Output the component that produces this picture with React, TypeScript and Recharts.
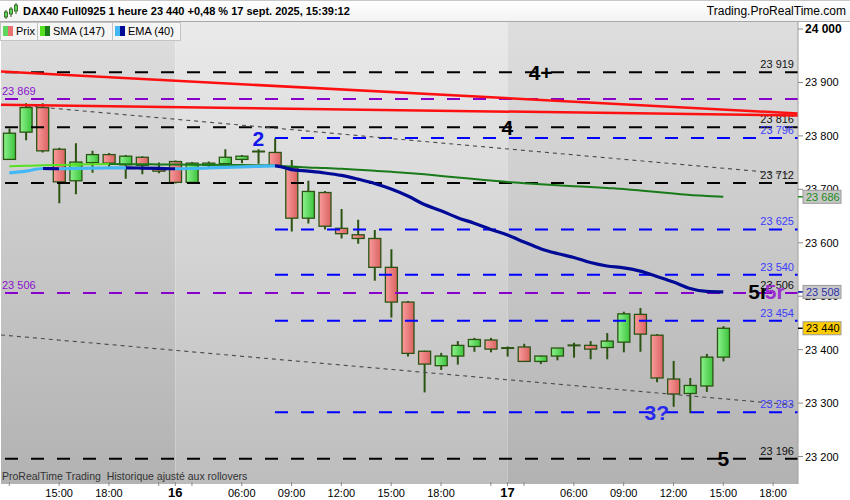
import React from 'react';
import {
  ComposedChart,
  Bar,
  Line,
  XAxis,
  YAxis,
  ReferenceLine,
  ReferenceArea,
  ReferenceDot,
} from 'recharts';

// hourly slots, 15 sept 12h -> 17 sept 19h (night hours are not traded)
const slots = [
  '15/12', '15/13', '15/14', '15/15', '15/16', '15/17', '15/18', '15/19', '15/20', '15/21',
  '16/02', '16/03', '16/04', '16/05', '16/06', '16/07', '16/08', '16/09', '16/10', '16/11',
  '16/12', '16/13', '16/14', '16/15', '16/16', '16/17', '16/18', '16/19', '16/20', '16/21',
  '17/02', '17/03', '17/04', '17/05', '17/06', '17/07', '17/08', '17/09', '17/10', '17/11',
  '17/12', '17/13', '17/14', '17/15', '17/16', '17/17', '17/18', '17/19',
];

const opens = [23756, 23807, 23853, 23775, 23716, 23750, 23765, 23746, 23760, 23740, 23752, 23713, 23745, 23748, 23756, 23770, 23769, 23741, 23646, 23694, 23627, 23615, 23608, 23554, 23489, 23397, 23370, 23388, 23406, 23418, 23402, 23405, 23378, 23388, 23405, 23408, 23404, 23414, 23466, 23427, 23345, 23318, 23332, 23386];
const highs = [23814, 23861, 23861, 23778, 23786, 23772, 23768, 23764, 23762, 23750, 23754, 23751, 23752, 23775, 23764, 23775, 23795, 23755, 23716, 23697, 23663, 23643, 23624, 23588, 23491, 23398, 23394, 23416, 23422, 23422, 23406, 23411, 23389, 23403, 23413, 23416, 23431, 23471, 23478, 23429, 23379, 23347, 23392, 23444];
const lows = [23755, 23792, 23769, 23674, 23691, 23731, 23742, 23720, 23728, 23730, 23711, 23712, 23742, 23747, 23749, 23748, 23743, 23621, 23636, 23625, 23608, 23598, 23529, 23460, 23387, 23320, 23362, 23372, 23396, 23395, 23387, 23377, 23373, 23380, 23385, 23382, 23382, 23395, 23396, 23339, 23293, 23281, 23321, 23378];
const closes = [23805, 23853, 23772, 23714, 23751, 23765, 23749, 23762, 23745, 23734, 23713, 23749, 23749, 23760, 23762, 23771, 23744, 23646, 23696, 23631, 23617, 23608, 23554, 23489, 23393, 23373, 23388, 23408, 23419, 23401, 23403, 23378, 23388, 23403, 23408, 23401, 23416, 23467, 23429, 23347, 23317, 23333, 23386, 23440];

const sma147 = [23743, 23744, 23745, 23745.7, 23746.3, 23746.8, 23747.2, 23747, 23746.8, 23746.6, 23746.4, 23746.2, 23746, 23745.7, 23745.4, 23745, 23744.5, 23742.7, 23741, 23740, 23738.4, 23736.6, 23734.7, 23733, 23730.6, 23728, 23725, 23722, 23719.3, 23716.5, 23713.7, 23711.5, 23709.6, 23707.8, 23705.9, 23704.4, 23702.5, 23700.6, 23697.8, 23695, 23692, 23689.3, 23687.5, 23686];
const ema40 = [23730.6, 23734, 23739, 23738.5, 23739, 23739.5, 23740, 23740.2, 23739.8, 23739.2, 23738.5, 23739, 23740, 23741, 23742, 23743, 23744, 23737, 23734, 23730.6, 23726, 23719, 23711, 23700.6, 23687.5, 23671.6, 23660, 23647, 23636.5, 23625, 23614.6, 23601.5, 23589, 23580, 23572.5, 23563, 23556.6, 23553, 23547, 23537, 23526.6, 23514.5, 23509, 23508];

const priceTicks = [23200, 23300, 23400, 23500, 23600, 23700, 23800, 23900, 24000];
const timeTicks = [0, 3, 6, 9, 10, 11, 14, 17, 20, 23, 26, 29, 30, 31, 34, 37, 40, 43, 46];
const timeLabels = ['', '15:00', '18:00', '', '16', '', '06:00', '09:00', '12:00', '15:00', '18:00', '', '17', '', '06:00', '09:00', '12:00', '15:00', '18:00'];

// horizontal levels
const blackLevels = [23919, 23816, 23712, 23196];
const purpleLevels = [23869, 23506];
const blueLevels = [23796, 23625, 23540, 23454, 23283];
const blueFrom = 16;

// trend lines: [slot, price] at both ends
const redTrends = [
  [[-0.5, 23920.3], [47.5, 23842]],
  [[-0.5, 23858.4], [47.5, 23838]],
];
const dottedTrends = [
  [[0.1, 23858.7], [47.2, 23727.8]],
  [[-0.5, 23427.5], [47.2, 23296.5]],
];

// wave annotations
const noteTexts = ['2', '4+', '4', '3?', '5', '5r', '5r'];
const noteSlots = [15, 32, 30, 39, 43, 45.1, 46.1];
const notePrices = [23796, 23919, 23816, 23283, 23196, 23508, 23508];
const noteColors = ['#1414ee', '#000', '#000', '#2a2aee', '#000', '#000', '#9a30d0'];

const rows = slots.map((slot, i) =>
  i < closes.length
    ? {
        slot,
        i,
        range: [lows[i], highs[i]],
        open: opens[i],
        high: highs[i],
        low: lows[i],
        close: closes[i],
        sma: sma147[i],
        ema: ema40[i],
      }
    : { slot, i }
);

const fmt = (v: number) => {
  const s = Math.round(v).toString();
  return s.slice(0, s.length - 3) + ' ' + s.slice(-3);
};

const WICK = '#2b5412';

const Candle = (props: any) => {
  const { x, y, width, height, payload } = props;
  if (!payload || payload.open == null) return null;
  const { open, close, high, low } = payload;
  const top = Math.min(y, y + height);
  const bottom = Math.max(y, y + height);
  const k = high > low ? (bottom - top) / (high - low) : 0;
  const py = (v: number) => top + (high - v) * k;
  const bTop = py(Math.max(open, close));
  const bBot = py(Math.min(open, close));
  const cx = x + width / 2;
  const up = close >= open;
  return (
    <g>
      <line x1={cx} x2={cx} y1={top} y2={bottom} stroke={WICK} strokeWidth={2} />
      {bBot - bTop < 2 ? (
        <line x1={x} x2={x + width} y1={bTop} y2={bTop} stroke={WICK} strokeWidth={2} />
      ) : (
        <rect
          x={x + 0.5}
          y={bTop}
          width={width - 1}
          height={bBot - bTop}
          fill={up ? 'url(#candleUp)' : 'url(#candleDn)'}
          stroke={WICK}
          strokeWidth={1.3}
        />
      )}
    </g>
  );
};

const LevelLabel = (props: any) => {
  const { viewBox, txt, col, leftTxt, leftCol } = props;
  if (!viewBox) return null;
  const { x, y, width } = viewBox;
  return (
    <g>
      {txt && (
        <text x={x + width - 4} y={y - 4} textAnchor="end" fontSize={11} fill={col}>
          {txt}
        </text>
      )}
      {leftTxt && (
        <text x={2} y={y - 4} fontSize={11} fill={leftCol}>
          {leftTxt}
        </text>
      )}
    </g>
  );
};

const Note = (props: any) => {
  const { cx, cy, txt, col } = props;
  return (
    <text x={cx} y={cy} dy={7.5} textAnchor="middle" fontSize={21} fontWeight="bold" fill={col}>
      {txt}
    </text>
  );
};

const Badge = (props: any) => {
  const { cx, cy, txt, bg, fg, tickCol } = props;
  return (
    <g>
      <line x1={cx} x2={cx + 5} y1={cy} y2={cy} stroke={tickCol} strokeWidth={1.5} />
      <rect x={cx + 5} y={cy - 6.5} width={38} height={13} fill={bg} stroke="#9a9a9a" />
      <text x={cx + 8} y={cy + 4} fontSize={11} fill={fg}>
        {txt}
      </text>
    </g>
  );
};

const PriceTick = (props: any) => {
  const { x, y, payload } = props;
  const big = payload.value === 24000;
  return (
    <text x={x} y={y} dy={4} fontSize={big ? 12 : 11} fontWeight={big ? 'bold' : 'normal'} fill="#000">
      {fmt(payload.value)}
    </text>
  );
};

const TimeTick = (props: any) => {
  const { x, y, payload } = props;
  const label = timeLabels[timeTicks.indexOf(payload.value)] ?? '';
  const day = label.length === 2;
  return (
    <g>
      <line x1={x} x2={x} y1={y - 2} y2={y + 2} stroke="#8a8a8a" />
      <text
        x={x}
        y={y + 13}
        textAnchor="middle"
        fontSize={day ? 13 : 11}
        fontWeight={day ? 'bold' : 'normal'}
        fill="#000"
      >
        {label}
      </text>
    </g>
  );
};

// hard colour steps following the slope of an average
const slopeStops = (vals: number[], up: string, down: string) =>
  vals.slice(1).flatMap((v, i) => {
    const c = v >= vals[i] ? up : down;
    const n = vals.length - 1;
    return [
      <stop key={`${i}a`} offset={i / n} stopColor={c} />,
      <stop key={`${i}b`} offset={(i + 1) / n} stopColor={c} />,
    ];
  });

const legend = [
  { label: 'Prix', c1: '#5cd65c', c2: '#e87272', left: 0, width: 38 },
  { label: 'SMA (147)', c1: '#55e020', c2: '#187a18', left: 37, width: 76 },
  { label: 'EMA (40)', c1: '#44b8f4', c2: '#000a96', left: 112, width: 69 },
];

export default function App() {
  return (
    <div
      style={{
        position: 'absolute',
        left: 0,
        top: 0,
        width: 850,
        height: 500,
        background: '#fff',
        overflow: 'hidden',
        fontFamily: 'Arial, "Liberation Sans", sans-serif',
      }}
    >
      <div
        style={{
          position: 'absolute',
          left: 0,
          top: 0,
          width: 850,
          height: 22,
          boxSizing: 'border-box',
          borderTop: '1px solid #c8c8c8',
          borderBottom: '1px solid #a8a8a8',
          background: 'linear-gradient(#ffffff, #f3f3f3)',
        }}
      >
        <svg width={16} height={18} style={{ position: 'absolute', left: 3, top: 1 }}>
          <line x1={3} x2={3} y1={8} y2={17} stroke={WICK} />
          <rect x={1.5} y={10} width={3} height={5} fill="#5cd65c" stroke={WICK} strokeWidth={0.8} />
          <line x1={8} x2={8} y1={5} y2={15} stroke={WICK} />
          <rect x={6.5} y={7} width={3} height={5} fill="#5cd65c" stroke={WICK} strokeWidth={0.8} />
          <line x1={13} x2={13} y1={1} y2={12} stroke={WICK} />
          <rect x={11.5} y={3} width={3} height={6} fill="#5cd65c" stroke={WICK} strokeWidth={0.8} />
        </svg>
        <span style={{ position: 'absolute', left: 23, top: 4, fontSize: 11, fontWeight: 'bold', color: '#000' }}>
          DAX40 Full0925 1 heure 23 440 +0,48 % 17 sept. 2025, 15:39:12
        </span>
        <span style={{ position: 'absolute', right: 4, top: 3, fontSize: 12, color: '#000' }}>
          Trading.ProRealTime.com
        </span>
      </div>

      <div style={{ position: 'absolute', left: 0, top: 22 }}>
        <ComposedChart width={850} height={478} data={rows} margin={{ top: 0, right: 0, bottom: 0, left: 1 }}>
          <defs>
            <linearGradient id="candleUp" x1="0" y1="0" x2="1" y2="0">
              <stop offset="0" stopColor="#8df28d" />
              <stop offset="1" stopColor="#3cc43c" />
            </linearGradient>
            <linearGradient id="candleDn" x1="0" y1="0" x2="1" y2="0">
              <stop offset="0" stopColor="#f99c9c" />
              <stop offset="1" stopColor="#db6262" />
            </linearGradient>
            <linearGradient id="bgDark" x1="0" y1="0" x2="0" y2="1">
              <stop offset="0" stopColor="#dedede" />
              <stop offset="1" stopColor="#b2b2b2" />
            </linearGradient>
            <linearGradient id="bgLight" x1="0" y1="0" x2="0" y2="1">
              <stop offset="0" stopColor="#eaeaea" />
              <stop offset="1" stopColor="#bdbdbd" />
            </linearGradient>
            <linearGradient id="smaGrad" x1="0" y1="0" x2="1" y2="0">
              {slopeStops(sma147, '#55e020', '#187a18')}
            </linearGradient>
            <linearGradient id="emaGrad" x1="0" y1="0" x2="1" y2="0">
              {slopeStops(ema40, '#44b8f4', '#000a96')}
            </linearGradient>
          </defs>

          <XAxis
            xAxisId="num"
            dataKey="i"
            type="number"
            domain={[-0.5, 47.5]}
            allowDataOverflow
            ticks={timeTicks}
            interval={0}
            height={16}
            axisLine={false}
            tickLine={false}
            tickSize={0}
            tickMargin={0}
            tick={<TimeTick />}
          />
          <XAxis xAxisId="cat" dataKey="slot" hide height={0} />
          <YAxis
            orientation="right"
            width={52}
            domain={[23148.6, 24013.1]}
            allowDataOverflow
            ticks={priceTicks}
            interval={0}
            tickSize={5}
            tickMargin={2}
            axisLine={{ stroke: '#a0a0a0' }}
            tickLine={{ stroke: '#8a8a8a' }}
            tick={<PriceTick />}
          />

          <ReferenceArea xAxisId="num" x1={-0.5} x2={10} fill="url(#bgDark)" fillOpacity={1} stroke="none" />
          <ReferenceArea xAxisId="num" x1={10} x2={30} fill="url(#bgLight)" fillOpacity={1} stroke="none" />
          <ReferenceArea xAxisId="num" x1={30} x2={47.5} fill="url(#bgDark)" fillOpacity={1} stroke="none" />

          <Bar xAxisId="cat" dataKey="range" barSize={13} shape={<Candle />} isAnimationActive={false} />

          {blackLevels.map((v) => (
            <ReferenceLine
              key={`k${v}`}
              xAxisId="num"
              y={v}
              stroke="#000"
              strokeWidth={2}
              strokeDasharray="13 13"
              label={<LevelLabel txt={fmt(v)} col="#111" />}
            />
          ))}
          {purpleLevels.map((v, i) => (
            <ReferenceLine
              key={`p${v}`}
              xAxisId="num"
              y={v}
              stroke="#8800cc"
              strokeWidth={2}
              strokeDasharray="13 13"
              label={<LevelLabel leftTxt={fmt(v)} leftCol="#8a10cc" txt={i === 1 ? fmt(v) : ''} col="#111" />}
            />
          ))}
          {blueLevels.map((v) => (
            <ReferenceLine
              key={`b${v}`}
              xAxisId="num"
              segment={[
                { x: blueFrom, y: v },
                { x: 47.5, y: v },
              ]}
              stroke="#0000ff"
              strokeWidth={2}
              strokeDasharray="13 13"
              label={<LevelLabel txt={fmt(v)} col="#3c3cff" />}
            />
          ))}
          {dottedTrends.map((t, i) => (
            <ReferenceLine
              key={`d${i}`}
              xAxisId="num"
              segment={[
                { x: t[0][0], y: t[0][1] },
                { x: t[1][0], y: t[1][1] },
              ]}
              stroke="#4a4a4a"
              strokeWidth={1.1}
              strokeDasharray="4 4"
            />
          ))}
          {redTrends.map((t, i) => (
            <ReferenceLine
              key={`r${i}`}
              xAxisId="num"
              segment={[
                { x: t[0][0], y: t[0][1] },
                { x: t[1][0], y: t[1][1] },
              ]}
              stroke="#ff1010"
              strokeWidth={2.5}
            />
          ))}

          <Line
            xAxisId="cat"
            type="monotone"
            dataKey="sma"
            stroke="url(#smaGrad)"
            strokeWidth={2}
            dot={false}
            activeDot={false}
            isAnimationActive={false}
          />
          <Line
            xAxisId="cat"
            type="monotone"
            dataKey="ema"
            stroke="url(#emaGrad)"
            strokeWidth={3.2}
            dot={false}
            activeDot={false}
            isAnimationActive={false}
          />

          {noteTexts.map((t, i) => (
            <ReferenceDot
              key={`n${i}`}
              xAxisId="num"
              x={noteSlots[i]}
              y={notePrices[i]}
              r={2}
              shape={<Note txt={t} col={noteColors[i]} />}
            />
          ))}

          <ReferenceDot
            xAxisId="num"
            x={47.5}
            y={sma147[sma147.length - 1]}
            r={2}
            zIndex={2000}
            shape={<Badge txt={fmt(sma147[sma147.length - 1])} bg="#c6c6c6" fg="#1d8a1d" tickCol="#1d8a1d" />}
          />
          <ReferenceDot
            xAxisId="num"
            x={47.5}
            y={ema40[ema40.length - 1]}
            r={2}
            zIndex={2000}
            shape={<Badge txt={fmt(ema40[ema40.length - 1])} bg="#c6c6c6" fg="#2e2ea8" tickCol="#000a96" />}
          />
          <ReferenceDot
            xAxisId="num"
            x={47.5}
            y={closes[closes.length - 1]}
            r={2}
            zIndex={2000}
            shape={<Badge txt={fmt(closes[closes.length - 1])} bg="#ffcc00" fg="#000" tickCol="#000" />}
          />
        </ComposedChart>
      </div>

      {legend.map((l) => (
        <div
          key={l.label}
          style={{
            position: 'absolute',
            top: 22,
            left: l.left,
            width: l.width,
            height: 19,
            boxSizing: 'border-box',
            border: '1px solid #c4c4c4',
            background: '#f5f5f5',
            fontSize: 11,
            color: '#000',
          }}
        >
          <span style={{ position: 'absolute', left: 2, top: 3, width: 5, height: 10, background: l.c1 }} />
          <span style={{ position: 'absolute', left: 7, top: 3, width: 5, height: 10, background: l.c2 }} />
          <span style={{ position: 'absolute', left: 15, top: 2 }}>{l.label}</span>
        </div>
      ))}

      <div
        style={{
          position: 'absolute',
          left: 2,
          top: 470,
          fontSize: 10.5,
          color: '#333',
          whiteSpace: 'pre',
        }}
      >
        {'ProRealTime Trading  Historique ajusté aux rollovers'}
      </div>
    </div>
  );
}
